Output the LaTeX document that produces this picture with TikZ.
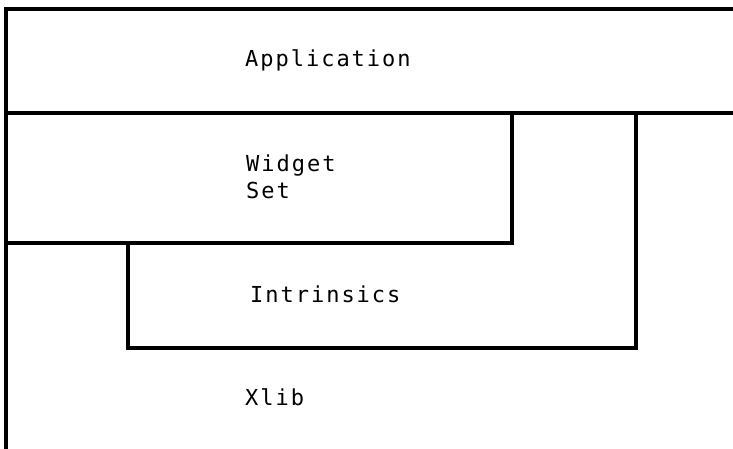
\documentclass[tikz,border=0pt]{standalone}
\usepackage{fontspec}
\newfontfamily\layerfont[LetterSpace=9]{DejaVu Sans Mono}
\begin{document}
\begin{tikzpicture}[x=1pt,y=-1pt,
  wall/.style={line width=3.2pt,line cap=rect},
  layerlabel/.style={font=\layerfont\fontsize{22}{27}\selectfont,
    anchor=base west,inner sep=0pt,align=left}]
\useasboundingbox (0,0) rectangle (733,449);
% corners of the layers
\coordinate (tl) at (6,9);
\coordinate (tr) at (740,9);
\coordinate (bl) at (6,460);
\coordinate (al) at (6,113);
\coordinate (ar) at (740,113);
\coordinate (wr) at (512,113);
\coordinate (wbr) at (512,243);
\coordinate (wbl) at (6,243);
\coordinate (itl) at (128,243);
\coordinate (ibl) at (128,348);
\coordinate (ibr) at (636,348);
\coordinate (itr) at (636,113);
% outline
\draw[wall] (tr) -- (tl) -- (bl);
\draw[wall] (al) -- (ar);
\draw[wall] (wr) -- (wbr) -- (wbl);
\draw[wall] (itl) -- (ibl) -- (ibr) -- (itr);
% labels (base anchor of a two-line label sits on its last line)
\node[layerlabel] (app) at (245,67) {Application};
\node[layerlabel] (wid) at (246,198) {Widget\\Set};
\node[layerlabel] (intr) at (250,302) {Intrinsics};
\node[layerlabel] (xlib) at (245,405) {Xlib};
\end{tikzpicture}
\end{document}
